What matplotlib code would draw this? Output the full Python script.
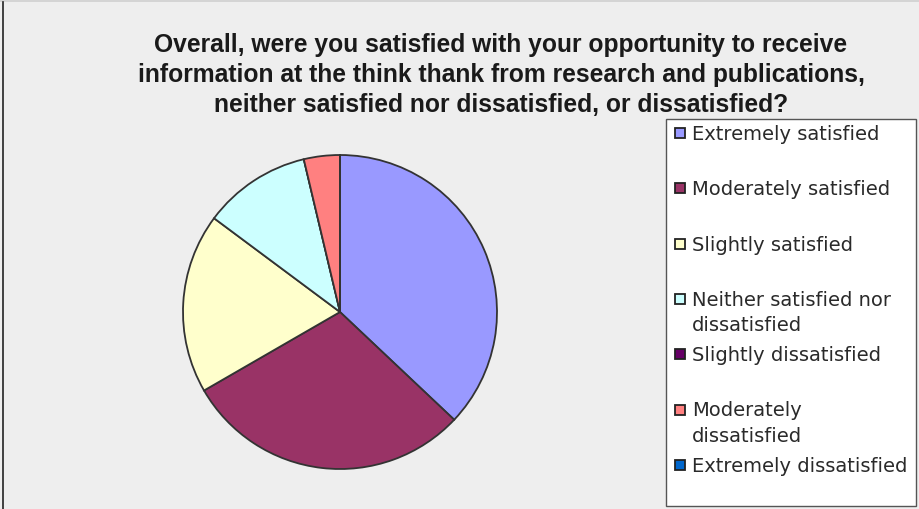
import matplotlib
matplotlib.use("Agg")
import matplotlib.pyplot as plt
from matplotlib.patches import Rectangle
from matplotlib.lines import Line2D
from matplotlib import font_manager

title = ("Overall, were you satisfied with your opportunity to receive\n"
         "information at the think thank from research and publications,\n"
         "neither satisfied nor dissatisfied, or dissatisfied?")
labels = ["Extremely satisfied", "Moderately satisfied", "Slightly satisfied",
          "Neither satisfied nor\ndissatisfied", "Slightly dissatisfied",
          "Moderately\ndissatisfied", "Extremely dissatisfied"]
values = [10, 8, 5, 3, 0, 1, 0]
colors = ["#9999FF", "#993366", "#FFFFCC", "#CCFFFF", "#660066", "#FF8080", "#0066CC"]

W, H = 920, 510
fig = plt.figure(figsize=(W / 100, H / 100), dpi=100, facecolor="#EEEEEE")

def fx(px):
    return px / W

def fy(py):
    return 1 - py / H

# outer frame hints
fig.add_artist(Rectangle((0, fy(3)), 1, 3 / H, transform=fig.transFigure,
                         facecolor="#D4D4D4", edgecolor="none"))
fig.add_artist(Line2D([fx(3.5), fx(3.5)], [0, fy(3)], transform=fig.transFigure,
                      color="#222222", lw=1.2))

names = {f.name for f in font_manager.fontManager.ttflist}
tfont = "Liberation Sans Narrow" if "Liberation Sans Narrow" in names else "Liberation Sans"
fig.text(fx(501), fy(75), title, ha="center", va="center", fontsize=17.7,
         fontweight="bold", family=tfont, color="#1a1a1a", linespacing=1.33)

# pie
cx, cy, r = 340, 313, 157
ax = fig.add_axes([fx(cx - r), fy(cy + r), 2 * r / W, 2 * r / H])
ax.pie(values, colors=colors, startangle=90, counterclock=False,
       wedgeprops=dict(edgecolor="#333333", linewidth=1.3))
ax.set_xlim(-1, 1)
ax.set_ylim(-1, 1)
ax.set_aspect("auto")
ax.axis("off")

# legend box
lx0, ly0, lx1, ly1 = 666, 120, 916, 507
fig.add_artist(Rectangle((fx(lx0), fy(ly1)), fx(lx1 - lx0), (ly1 - ly0) / H,
                         transform=fig.transFigure, facecolor="white",
                         edgecolor="#555555", lw=1.0))
step = 55.3
for i, (lab, col) in enumerate(zip(labels, colors)):
    ty = 133 + i * step
    fig.add_artist(Rectangle((fx(675.5), fy(ty + 6)), fx(10), 10 / H,
                             transform=fig.transFigure, facecolor=col,
                             edgecolor="#222222", lw=1.3))
    for k, line in enumerate(lab.split("\n")):
        fig.text(fx(692), fy(ty + 7 + k * 25), line, ha="left", va="baseline",
                 fontsize=14, family="DejaVu Sans", color="#2a2a2a")

fig.savefig("out.png", dpi=100, facecolor=fig.get_facecolor())
